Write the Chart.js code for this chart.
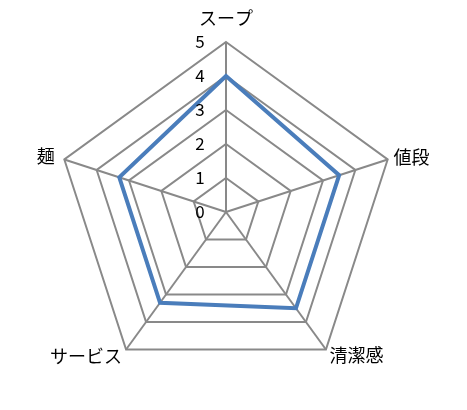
<!DOCTYPE html>
<html>
<head>
<meta charset="utf-8">
<script src="https://cdn.jsdelivr.net/npm/chart.js@4/dist/chart.umd.min.js"></script>
<style>
  html, body { margin: 0; padding: 0; background: #ffffff; }
  #c { display: block; }
</style>
</head>
<body>
<canvas id="c" width="467" height="410"></canvas>
<script>
const categories = ['スープ', '値段', '清潔感', 'サービス', '麺'];
const scores = [4, 3.5, 3.5, 3.3, 3.3];
const tickValues = [0, 1, 2, 3, 4, 5];
const labelPadding = [23, 6, 6, 7, 10];

const FONT = '"Noto Sans CJK JP", "Noto Sans", sans-serif';

const tickLabelPlugin = {
  id: 'tickLabelPlugin',
  afterDatasetsDraw(chart) {
    const scale = chart.scales.r;
    const ctx = chart.ctx;
    ctx.save();
    ctx.font = '17px ' + FONT;
    ctx.fillStyle = '#000000';
    ctx.textAlign = 'center';
    ctx.textBaseline = 'middle';
    scale.ticks.forEach(t => {
      const p = scale.getPointPositionForValue(0, t.value);
      ctx.fillText(String(t.value), p.x - 26, p.y);
    });
    ctx.restore();
  }
};

new Chart(document.getElementById('c'), {
  type: 'radar',
  data: {
    labels: categories,
    datasets: [{
      data: scores,
      borderColor: '#4a7dbb',
      borderWidth: 4,
      fill: false,
      pointRadius: 0,
      pointHoverRadius: 0,
      tension: 0
    }]
  },
  options: {
    responsive: false,
    animation: false,
    devicePixelRatio: 1,
    layout: { padding: { left: 17, right: 20, top: 6, bottom: 16 } },
    plugins: { legend: { display: false }, tooltip: { enabled: false } },
    scales: {
      r: {
        min: 0,
        max: 5,
        beginAtZero: true,
        ticks: { display: false, stepSize: 1 },
        afterBuildTicks(scale) {
          scale.ticks = tickValues.map(v => ({ value: v }));
        },
        grid: { color: '#898989', lineWidth: 2, circular: false },
        angleLines: { color: '#898989', lineWidth: 2 },
        pointLabels: {
          display: true,
          color: '#000000',
          font: { family: FONT, size: 18, lineHeight: '1px' },
          padding: (ctx) => labelPadding[ctx.index]
        }
      }
    }
  },
  plugins: [tickLabelPlugin]
});
</script>
</body>
</html>
